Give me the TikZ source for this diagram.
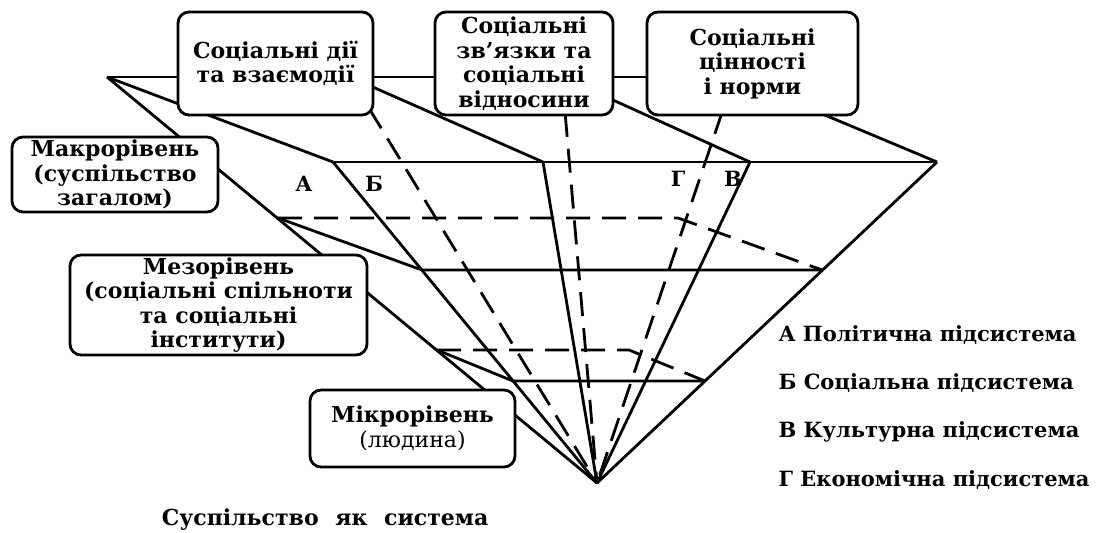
\documentclass[tikz,border=0pt]{standalone}
\usepackage{fontspec}
\setmainfont{DejaVu Serif}
\begin{document}
\begin{tikzpicture}[x=1pt,y=-1pt,
	edge/.style={line width=2.8pt,black,line join=round},
	hidden/.style={edge,dash pattern=on 24pt off 12pt},
	level/.style={draw,line width=2.8pt,fill=white,rounded corners=11pt,align=center,inner sep=0pt,font=\fontsize{22}{24.5}\selectfont\bfseries},
	sub/.style={font=\fontsize{21}{24}\selectfont\bfseries},
	legend/.style={anchor=west,font=\fontsize{21}{24}\selectfont\bfseries}]
	
	\useasboundingbox (0,0) rectangle (1104,533);
	
	\coordinate (L) at (107,77);
	\coordinate (P1) at (350,77);
	\coordinate (P2) at (562,77);
	\coordinate (TR) at (734,77);
	\coordinate (FL) at (333,162);
	\coordinate (Q1) at (543,162);
	\coordinate (Q2) at (750,162);
	\coordinate (R) at (937,162);
	\coordinate (apex) at (597,483);
	
	\coordinate (mesoBL) at (278,218);
	\coordinate (mesoBR) at (678,218);
	\coordinate (mesoFL) at (422,270);
	\coordinate (mesoFR) at (822,270);
	
	\coordinate (microBL) at (437,350);
	\coordinate (microBR) at (629,350);
	\coordinate (microFL) at (513,381);
	\coordinate (microFR) at (705,381);
	
	\draw[edge](L)--(TR);
	\draw[edge](FL)--(R);
	\draw[edge](L)--(FL);
	\draw[edge](P1)--(Q1);
	\draw[edge](P2)--(Q2);
	\draw[edge](TR)--(R);
	
	\draw[edge](L)--(apex);
	\draw[edge](FL)--(apex);
	\draw[edge](Q1)--(apex);
	\draw[edge](Q2)--(apex);
	\draw[edge](R)--(apex);
	
	\draw[hidden](P1)--(apex);
	\draw[hidden](P2)--(apex);
	\draw[hidden](TR)--(apex);
	
	\draw[edge](mesoBL)--(mesoFL)--(mesoFR);
	\draw[hidden](mesoBL)--(mesoBR)--(mesoFR);
	
	\draw[edge](microBL)--(microFL)--(microFR);
	\draw[hidden](microBL)--(microBR)--(microFR);
	
	\node[level,minimum width=195pt,minimum height=103pt](actions) at (275.5,63.5){Соціальні дії\\та взаємодії};
	\node[level,minimum width=178pt,minimum height=103pt](relations) at (524,63.5){Соціальні\\зв'язки та\\соціальні\\відносини};
	\node[level,minimum width=211pt,minimum height=103pt](values) at (752.5,63.5){Соціальні\\цінності\\і норми};
	
	\node[level,minimum width=206pt,minimum height=75pt](macro) at (115,174.5){Макрорівень\\(суспільство\\загалом)};
	\node[level,minimum width=297pt,minimum height=100pt](meso) at (218.5,305){Мезорівень\\(соціальні спільноти\\та соціальні\\інститути)};
	\node[level,minimum width=205pt,minimum height=77pt](micro) at (412.5,428.5){Мікрорівень\\\textmd{(людина)}};
	
	\node[sub](A) at (304,184){А};
	\node[sub](B) at (374,184){Б};
	\node[sub](G) at (678,179){Г};
	\node[sub](V) at (733,179){В};
	
	\node[legend](legA) at (775,335){А Політична підсистема};
	\node[legend](legB) at (775,383){Б Соціальна підсистема};
	\node[legend](legV) at (775,432){В Культурна підсистема};
	\node[legend](legG) at (775,480){Г Економічна підсистема};
	
	\node[font=\fontsize{22}{24}\selectfont\bfseries](title) at (325,520){Суспільство\hspace{9pt} як\hspace{9pt} система};
	
\end{tikzpicture}
\end{document}
